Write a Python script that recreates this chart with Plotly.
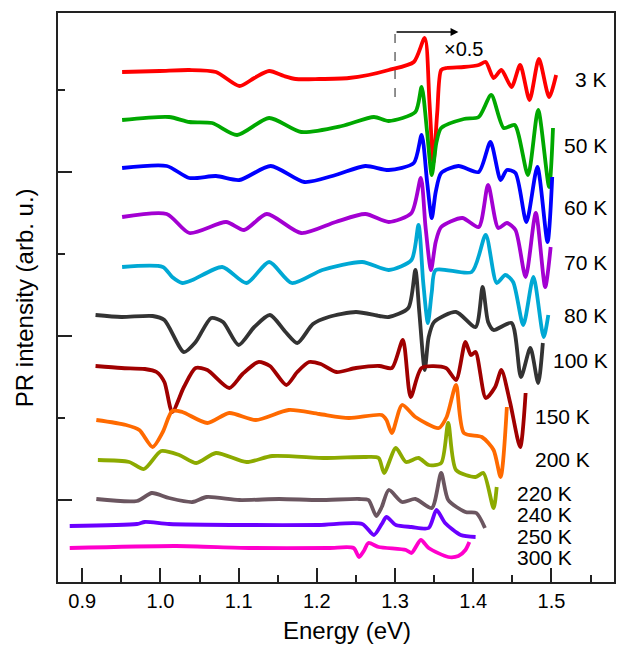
import plotly.graph_objects as go

# ---- data (energy in eV, PR intensity in arb. u., curves already vertically offset) ----
temps = ["3 K", "50 K", "60 K", "70 K", "80 K", "100 K", "150 K", "200 K", "220 K", "240 K", "250 K", "300 K"]
colors = ["#FF0000", "#00A800", "#0000FF", "#A300D2", "#00A8D4", "#333333",
          "#A00000", "#FF6A00", "#8CAA00", "#6B5660", "#6A00FF", "#FF00CC"]

e_3K = [0.951, 0.999, 1.037, 1.071, 1.101, 1.120, 1.139, 1.158, 1.173, 1.203, 1.241, 1.266, 1.292, 1.324, 1.338, 1.344, 1.349, 1.354, 1.359, 1.366, 1.388, 1.407, 1.416, 1.426, 1.436, 1.449, 1.460, 1.472, 1.484, 1.497, 1.506]
i_3K = [510, 511, 512, 510, 496, 504, 511, 506, 503, 503, 504, 507, 512, 520, 544, 480, 419, 470, 512, 514, 515, 517, 520, 504, 512, 495, 517, 482, 523, 485, 507]

e_50K = [0.951, 1.011, 1.037, 1.066, 1.098, 1.139, 1.180, 1.232, 1.273, 1.292, 1.326, 1.334, 1.341, 1.347, 1.353, 1.359, 1.388, 1.407, 1.423, 1.439, 1.453, 1.470, 1.483, 1.497, 1.502]
i_50K = [462, 465, 460, 459, 447, 464, 450, 456, 465, 461, 470, 495, 450, 407, 440, 454, 463, 465, 487, 454, 457, 407, 472, 395, 454]

e_60K = [0.951, 1.008, 1.037, 1.071, 1.101, 1.141, 1.184, 1.224, 1.262, 1.292, 1.324, 1.334, 1.341, 1.347, 1.352, 1.359, 1.381, 1.407, 1.422, 1.435, 1.443, 1.454, 1.468, 1.482, 1.495, 1.501]
i_60K = [414, 416, 404, 406, 402, 416, 400, 407, 416, 412, 419, 447, 400, 364, 390, 409, 416, 410, 440, 402, 412, 409, 360, 415, 340, 405]

e_70K = [0.951, 1.008, 1.037, 1.084, 1.107, 1.136, 1.180, 1.224, 1.262, 1.292, 1.321, 1.333, 1.339, 1.346, 1.352, 1.359, 1.386, 1.407, 1.419, 1.432, 1.443, 1.454, 1.467, 1.480, 1.492, 1.499]
i_70K = [365, 368, 349, 360, 352, 368, 349, 360, 368, 360, 369, 404, 355, 312, 340, 355, 364, 355, 397, 354, 359, 352, 305, 369, 295, 335]

e_80K = [0.951, 1.003, 1.015, 1.028, 1.041, 1.079, 1.110, 1.139, 1.168, 1.207, 1.258, 1.292, 1.321, 1.330, 1.336, 1.342, 1.347, 1.352, 1.398, 1.416, 1.430, 1.441, 1.451, 1.464, 1.477, 1.490, 1.496]
i_80K = [315, 315, 305, 299, 302, 315, 299, 320, 299, 312, 320, 312, 322, 357, 300, 259, 290, 312, 310, 347, 299, 307, 300, 257, 305, 245, 267]

e_100K = [0.917, 0.950, 0.990, 1.005, 1.030, 1.045, 1.065, 1.080, 1.100, 1.120, 1.140, 1.160, 1.175, 1.195, 1.215, 1.250, 1.280, 1.292, 1.317, 1.326, 1.331, 1.338, 1.343, 1.350, 1.378, 1.403, 1.412, 1.419, 1.426, 1.449, 1.461, 1.473, 1.483, 1.489]
i_100K = [267, 265, 266, 262, 230, 240, 264, 260, 237, 255, 267, 250, 239, 258, 265, 270, 266, 265, 274, 312, 270, 212, 245, 260, 270, 255, 295, 260, 252, 259, 205, 234, 199, 239]

e_150K = [0.917, 0.950, 0.980, 0.995, 1.005, 1.015, 1.030, 1.045, 1.060, 1.088, 1.105, 1.125, 1.140, 1.161, 1.175, 1.190, 1.205, 1.225, 1.250, 1.280, 1.296, 1.310, 1.320, 1.334, 1.365, 1.378, 1.390, 1.397, 1.403, 1.416, 1.428, 1.436, 1.447, 1.460, 1.467]
i_150K = [216, 214, 213, 210, 200, 170, 195, 214, 212, 194, 208, 220, 216, 197, 210, 220, 218, 210, 214, 216, 214, 242, 185, 214, 214, 202, 240, 227, 230, 184, 195, 212, 180, 135, 189]

e_200K = [0.918, 0.956, 0.973, 0.990, 1.003, 1.015, 1.028, 1.060, 1.088, 1.122, 1.164, 1.203, 1.241, 1.283, 1.289, 1.296, 1.309, 1.326, 1.356, 1.366, 1.378, 1.388, 1.411, 1.426, 1.435, 1.443]
i_200K = [162, 157, 152, 135, 150, 171, 170, 159, 169, 162, 172, 168, 164, 167, 162, 149, 177, 165, 154, 165, 197, 149, 145, 132, 105, 175]

e_220K = [0.920, 0.960, 0.979, 1.001, 1.024, 1.046, 1.071, 1.110, 1.143, 1.212, 1.262, 1.279, 1.286, 1.301, 1.314, 1.330, 1.343, 1.359, 1.368, 1.378, 1.403, 1.413, 1.426, 1.430]
i_220K = [122, 120, 113, 131, 127, 119, 129, 120, 126, 124, 125, 124, 109, 134, 120, 124, 117, 119, 159, 112, 105, 109, 74, 95]

e_240K = [0.918, 0.970, 0.989, 1.011, 1.041, 1.059, 1.101, 1.152, 1.203, 1.254, 1.266, 1.276, 1.283, 1.292, 1.309, 1.326, 1.347, 1.359, 1.368, 1.390, 1.404, 1.415]
i_240K = [83, 81, 89, 84, 80, 85, 82, 83, 82, 83, 82, 66, 75, 92, 80, 83, 74, 109, 82, 70, 69, 54]

e_250K = [0.884, 0.970, 0.980, 1.011, 1.113, 1.203, 1.258, 1.273, 1.283, 1.289, 1.301, 1.321, 1.343, 1.353, 1.364, 1.384, 1.403]
i_250K = [56, 58, 60, 58, 57, 57, 58, 47, 58, 65, 57, 55, 54, 72, 59, 47, 45]

e_300K = [0.884, 1.020, 1.113, 1.215, 1.247, 1.254, 1.260, 1.266, 1.279, 1.314, 1.321, 1.333, 1.343, 1.368, 1.381, 1.390, 1.395]
i_300K = [34, 36, 34, 34, 34, 25, 31, 39, 35, 32, 29, 42, 34, 25, 26, 32, 40]

energies = [e_3K, e_50K, e_60K, e_70K, e_80K, e_100K, e_150K, e_200K, e_220K, e_240K, e_250K, e_300K]
intens = [i_3K, i_50K, i_60K, i_70K, i_80K, i_100K, i_150K, i_200K, i_220K, i_240K, i_250K, i_300K]

# label anchor positions (energy, intensity)
label_x = [1.528, 1.513, 1.513, 1.513, 1.513, 1.500, 1.477, 1.476, 1.454, 1.454, 1.454, 1.454]
label_y = [503, 437, 375, 320, 267, 222, 166, 123, 89, 68, 46, 25]

x_ticks = [0.9, 1.0, 1.1, 1.2, 1.3, 1.4, 1.5]
x_ticktext = ["0.9", "1.0", "1.1", "1.2", "1.3", "1.4", "1.5"]

FONT = "Arial, Liberation Sans, sans-serif"

fig = go.Figure()
for t, c, ex, iy in zip(temps, colors, energies, intens):
    fig.add_trace(go.Scatter(x=ex, y=iy, mode="lines", name=t,
                             line=dict(color=c, width=3.8, shape="spline", smoothing=0.7),
                             showlegend=False))

annotations = []
for t, lx, ly in zip(temps, label_x, label_y):
    annotations.append(dict(x=lx, y=ly, xref="x", yref="y", text=t, showarrow=False,
                            xanchor="left", yanchor="middle",
                            font=dict(family=FONT, size=21, color="black")))

# scale marker: dashed line + arrow + x0.5
annotations.append(dict(x=1.381, y=550, ax=1.30, ay=550, xref="x", yref="y", axref="x", ayref="y",
                        text="", showarrow=True, arrowhead=2, arrowsize=1.2, arrowwidth=1.3,
                        arrowcolor="black"))
annotations.append(dict(x=1.388, y=533, xref="x", yref="y", text="×0.5", showarrow=False,
                        xanchor="center", yanchor="middle",
                        font=dict(family=FONT, size=20, color="black")))

# axis titles
annotations.append(dict(x=0.52, y=-0.085, xref="paper", yref="paper", text="Energy (eV)",
                        showarrow=False, xanchor="center", yanchor="middle",
                        font=dict(family=FONT, size=24, color="black")))
annotations.append(dict(x=-0.06, y=0.5, xref="paper", yref="paper", text="PR intensity (arb. u.)",
                        showarrow=False, xanchor="center", yanchor="middle", textangle=-90,
                        font=dict(family=FONT, size=24, color="black")))

fig.add_shape(type="line", x0=1.30, x1=1.30, y0=485, y1=550, xref="x", yref="y",
              line=dict(color="#555555", width=1.3, dash="dash"))

fig.update_layout(
    width=618, height=645,
    margin=dict(l=58, r=2, t=13, b=63),
    plot_bgcolor="white", paper_bgcolor="white",
    annotations=annotations,
    xaxis=dict(range=[0.869, 1.580], tickvals=x_ticks, ticktext=x_ticktext,
               ticks="inside", ticklen=14, tickwidth=1.5, tickcolor="#222222",
               minor=dict(dtick=0.05, tick0=0.9, ticks="inside", ticklen=7, tickwidth=1.5, tickcolor="#222222"),
               showline=True, linecolor="#222222", linewidth=1.8, mirror=True,
               showgrid=False, zeroline=False,
               tickfont=dict(family=FONT, size=20, color="black")),
    yaxis=dict(range=[0, 569], tick0=82, dtick=164, showticklabels=False,
               ticks="inside", ticklen=14, tickwidth=1.5, tickcolor="#222222",
               minor=dict(dtick=82, tick0=0, ticks="inside", ticklen=7, tickwidth=1.5, tickcolor="#222222"),
               showline=True, linecolor="#222222", linewidth=1.8, mirror=True,
               showgrid=False, zeroline=False),
)

fig.write_html("out.html", config={"displayModeBar": False},
               post_script="document.body.style.margin='0px';document.body.style.overflow='hidden';")
